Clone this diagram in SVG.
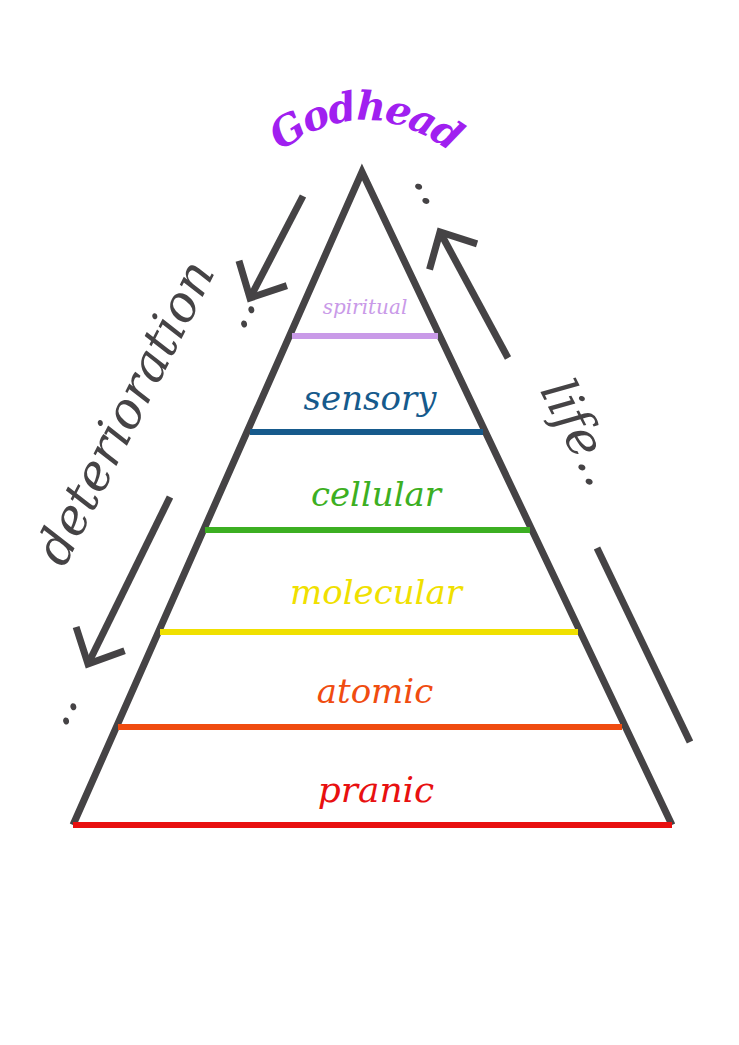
<svg xmlns="http://www.w3.org/2000/svg" width="739" height="1045" viewBox="0 0 739 1045">
<style>
.l{font-family:"DejaVu Serif",serif;font-style:italic;text-anchor:middle}
.c{stroke:#454345;stroke-width:7;fill:none;stroke-linecap:butt}
</style>
<defs><marker id="a" viewBox="0 0 10 10" refX="8" refY="5" markerWidth="10" markerHeight="10" orient="auto" markerUnits="userSpaceOnUse" overflow="visible"><polyline points="-20,-22 8,5 -20,32" fill="none" stroke="#454345" stroke-width="7"/></marker>
<path id="g" d="M230,200 Q365,40 500,200"/></defs>
<rect width="739" height="1045" fill="#fff"/>
<g id="pyramid"><polyline class="c" points="73,825 362,172 672,825"/></g>
<g id="spiritual"><line x1="292" y1="336" x2="438" y2="336" stroke="#c99ae8" stroke-width="6"/><text class="l" x="365" y="314" font-size="20" fill="#c99ae8">spiritual</text></g>
<g id="sensory"><line x1="250" y1="432" x2="483" y2="432" stroke="#165a8c" stroke-width="6"/><text class="l" x="370" y="410" font-size="34" fill="#165a8c">sensory</text></g>
<g id="cellular"><line x1="205" y1="530" x2="530" y2="530" stroke="#3caf22" stroke-width="6"/><text class="l" x="376" y="506" font-size="34" fill="#3caf22">cellular</text></g>
<g id="molecular"><line x1="160" y1="632" x2="578" y2="632" stroke="#f0e000" stroke-width="6"/><text class="l" x="376" y="604" font-size="34" fill="#f0e000">molecular</text></g>
<g id="atomic"><line x1="118" y1="727" x2="622" y2="727" stroke="#f04c10" stroke-width="6"/><text class="l" x="375" y="703" font-size="34" fill="#f04c10">atomic</text></g>
<g id="pranic"><line x1="73" y1="825" x2="672" y2="825" stroke="#e81010" stroke-width="6"/><text class="l" x="376" y="802" font-size="36" fill="#e81010">pranic</text></g>
<g id="godhead"><text class="l" font-size="40" font-weight="bold" fill="#a020f0" letter-spacing="-2"><textPath href="#g" startOffset="50%">Godhead</textPath></text></g>
<g id="connectors">
<line class="c" x1="303" y1="196" x2="250" y2="298" marker-end="url(#a)"/>
<line class="c" x1="170" y1="497" x2="88" y2="664" marker-end="url(#a)"/>
<line class="c" x1="508" y1="358" x2="440" y2="232" marker-end="url(#a)"/>
<line class="c" x1="597" y1="548" x2="690" y2="742"/>
</g>
<g id="deterioration"><text class="l" font-size="50" fill="#454345" transform="translate(140,420) rotate(-63)">deterioration</text>
<text class="l" font-size="50" fill="#454345" transform="translate(250,318) rotate(-63)">..</text>
<text class="l" font-size="50" fill="#454345" transform="translate(72,715) rotate(-63)">..</text></g>
<g id="life"><text class="l" font-size="50" fill="#454345" transform="translate(565,440) rotate(63)">life..</text>
<text class="l" font-size="50" fill="#454345" transform="translate(420,195) rotate(63)">..</text></g>
</svg>
